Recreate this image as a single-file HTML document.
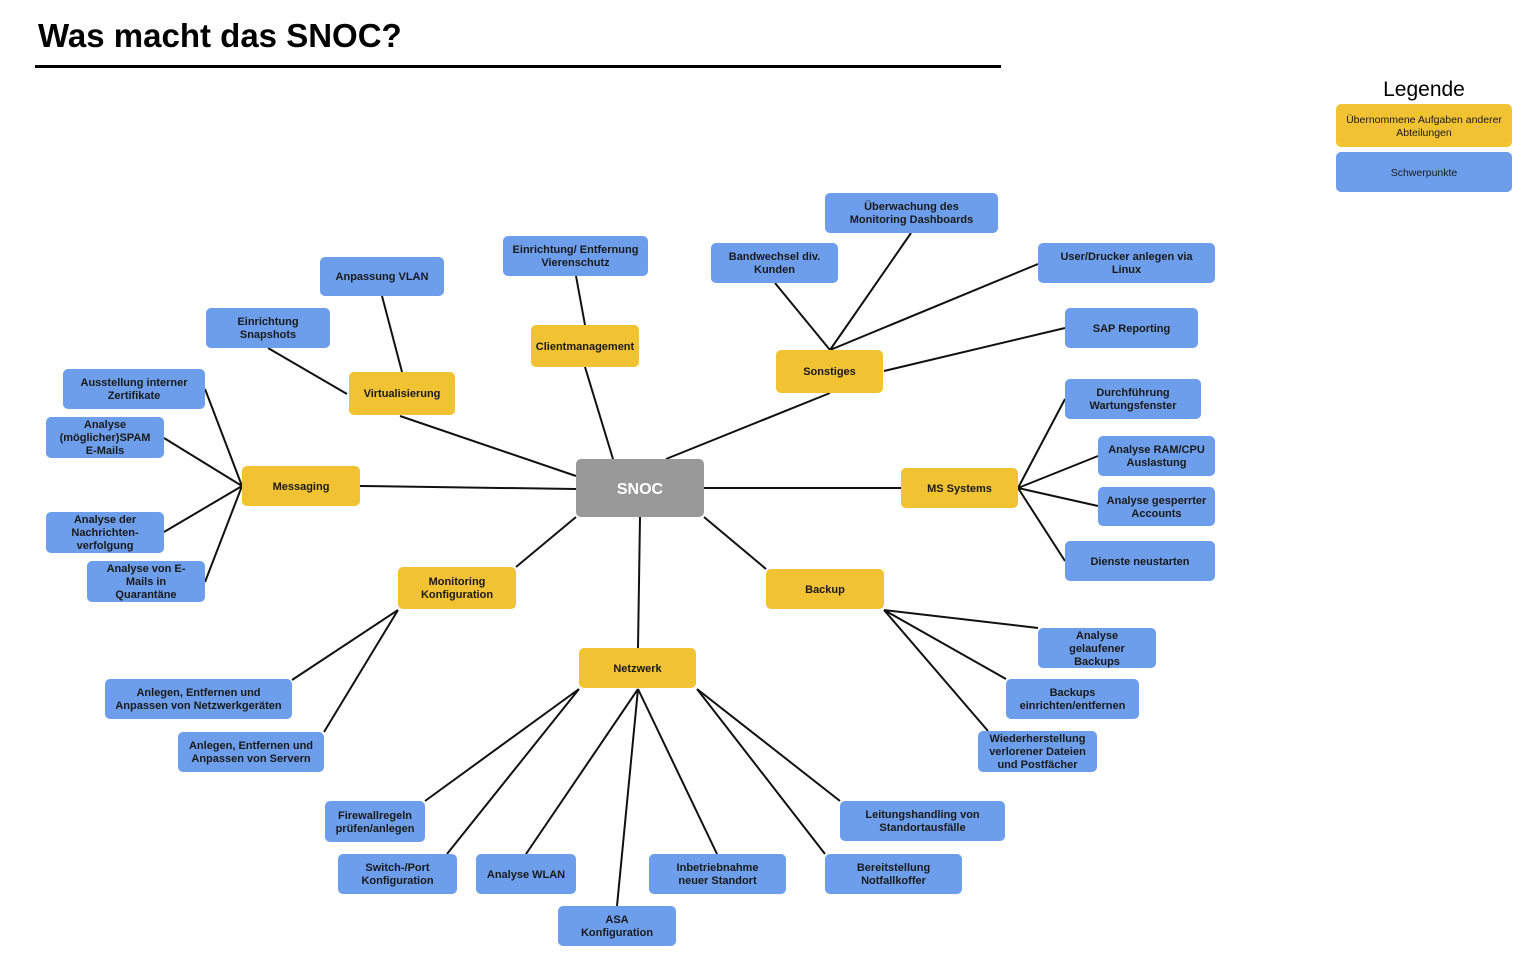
<!DOCTYPE html>
<html><head><meta charset="utf-8"><style>
body{margin:0;width:1536px;height:965px;background:#fff;position:relative;overflow:hidden;font-family:"Liberation Sans",Arial,sans-serif}
.n{position:absolute;display:flex;align-items:center;justify-content:center;text-align:center;border-radius:5px;font-size:11px;font-weight:bold;color:#1a1a1a;line-height:13px;box-sizing:border-box;padding:2px 3px 0}
.y{background:#f1c232}.b{background:#6d9eeb}
svg{position:absolute;left:0;top:0}
</style></head><body>
<div style="position:absolute;left:38px;top:17px;font-size:33px;font-weight:bold;color:#000">Was macht das SNOC?</div>
<div style="position:absolute;left:35px;top:65px;width:966px;height:3px;background:#000"></div>
<div style="position:absolute;left:1336px;top:78px;width:176px;text-align:center;font-size:21px;color:#000">Legende</div>
<div class="n y" style="left:1336px;top:104px;width:176px;height:43px;font-weight:normal;font-size:10.5px">Übernommene Aufgaben anderer Abteilungen</div>
<div class="n b" style="left:1336px;top:152px;width:176px;height:40px;font-weight:normal;font-size:10.5px">Schwerpunkte</div>
<svg width="1536" height="965" stroke="#111" stroke-width="2" fill="none">
<path d="M576 476L400 416M613 459L585 367M666 459L830 393M576 489L360 486M704 488L901 488M576 517L516 567M704 517L766 569M640 517L638 648"/>
<path d="M402 372L382 296M347 394L268 348M585 325L576 276"/>
<path d="M830 350L775 283M830 350L911 233M830 350L1038 264M884 371L1065 328"/>
<path d="M1018 488L1065 399M1018 488L1098 456M1018 488L1098 506M1018 488L1065 561"/>
<path d="M242 486L205 389M242 486L164 438M242 486L164 532M242 486L205 582"/>
<path d="M398 610L292 680M398 610L324 732"/>
<path d="M884 610L1038 628M884 610L1006 679M884 610L988 731"/>
<path d="M579 689L425 801M579 689L447 854M638 689L526 854M638 689L617 906M638 689L717 854M697 689L840 801M697 689L825 854"/>
</svg>
<div class="n" style="left:576px;top:459px;width:128px;height:58px;background:#999;color:#fff;font-size:16px">SNOC</div>
<div class="n y" style="left:349px;top:372px;width:106px;height:43px">Virtualisierung</div>
<div class="n y" style="left:531px;top:325px;width:108px;height:42px">Clientmanagement</div>
<div class="n y" style="left:776px;top:350px;width:107px;height:43px">Sonstiges</div>
<div class="n y" style="left:242px;top:466px;width:118px;height:40px">Messaging</div>
<div class="n y" style="left:901px;top:468px;width:117px;height:40px">MS Systems</div>
<div class="n y" style="left:398px;top:567px;width:118px;height:42px">Monitoring<br>Konfiguration</div>
<div class="n y" style="left:766px;top:569px;width:118px;height:40px">Backup</div>
<div class="n y" style="left:579px;top:648px;width:117px;height:40px">Netzwerk</div>
<div class="n b" style="left:320px;top:257px;width:124px;height:39px">Anpassung VLAN</div>
<div class="n b" style="left:206px;top:308px;width:124px;height:40px">Einrichtung<br>Snapshots</div>
<div class="n b" style="left:503px;top:236px;width:145px;height:40px">Einrichtung/ Entfernung<br>Vierenschutz</div>
<div class="n b" style="left:825px;top:193px;width:173px;height:40px">Überwachung des<br>Monitoring Dashboards</div>
<div class="n b" style="left:711px;top:243px;width:127px;height:40px">Bandwechsel div.<br>Kunden</div>
<div class="n b" style="left:1038px;top:243px;width:177px;height:40px">User/Drucker anlegen via<br>Linux</div>
<div class="n b" style="left:1065px;top:308px;width:133px;height:40px">SAP Reporting</div>
<div class="n b" style="left:1065px;top:379px;width:136px;height:40px">Durchführung<br>Wartungsfenster</div>
<div class="n b" style="left:1098px;top:436px;width:117px;height:40px">Analyse RAM/CPU<br>Auslastung</div>
<div class="n b" style="left:1098px;top:487px;width:117px;height:39px">Analyse gesperrter<br>Accounts</div>
<div class="n b" style="left:1065px;top:541px;width:150px;height:40px">Dienste neustarten</div>
<div class="n b" style="left:63px;top:369px;width:142px;height:40px">Ausstellung interner<br>Zertifikate</div>
<div class="n b" style="left:46px;top:417px;width:118px;height:41px">Analyse<br>(möglicher)SPAM<br>E-Mails</div>
<div class="n b" style="left:46px;top:512px;width:118px;height:41px">Analyse der<br>Nachrichten-<br>verfolgung</div>
<div class="n b" style="left:87px;top:561px;width:118px;height:41px">Analyse von E-<br>Mails in<br>Quarantäne</div>
<div class="n b" style="left:1038px;top:628px;width:118px;height:40px">Analyse<br>gelaufener<br>Backups</div>
<div class="n b" style="left:1006px;top:679px;width:133px;height:40px">Backups<br>einrichten/entfernen</div>
<div class="n b" style="left:978px;top:731px;width:119px;height:41px">Wiederherstellung<br>verlorener Dateien<br>und Postfächer</div>
<div class="n b" style="left:105px;top:679px;width:187px;height:40px">Anlegen, Entfernen und<br>Anpassen von Netzwerkgeräten</div>
<div class="n b" style="left:178px;top:732px;width:146px;height:40px">Anlegen, Entfernen und<br>Anpassen von Servern</div>
<div class="n b" style="left:325px;top:801px;width:100px;height:41px">Firewallregeln<br>prüfen/anlegen</div>
<div class="n b" style="left:338px;top:854px;width:119px;height:40px">Switch-/Port<br>Konfiguration</div>
<div class="n b" style="left:476px;top:854px;width:100px;height:40px">Analyse WLAN</div>
<div class="n b" style="left:558px;top:906px;width:118px;height:40px">ASA<br>Konfiguration</div>
<div class="n b" style="left:649px;top:854px;width:137px;height:40px">Inbetriebnahme<br>neuer Standort</div>
<div class="n b" style="left:840px;top:801px;width:165px;height:40px">Leitungshandling von<br>Standortausfälle</div>
<div class="n b" style="left:825px;top:854px;width:137px;height:40px">Bereitstellung<br>Notfallkoffer</div>
</body></html>
